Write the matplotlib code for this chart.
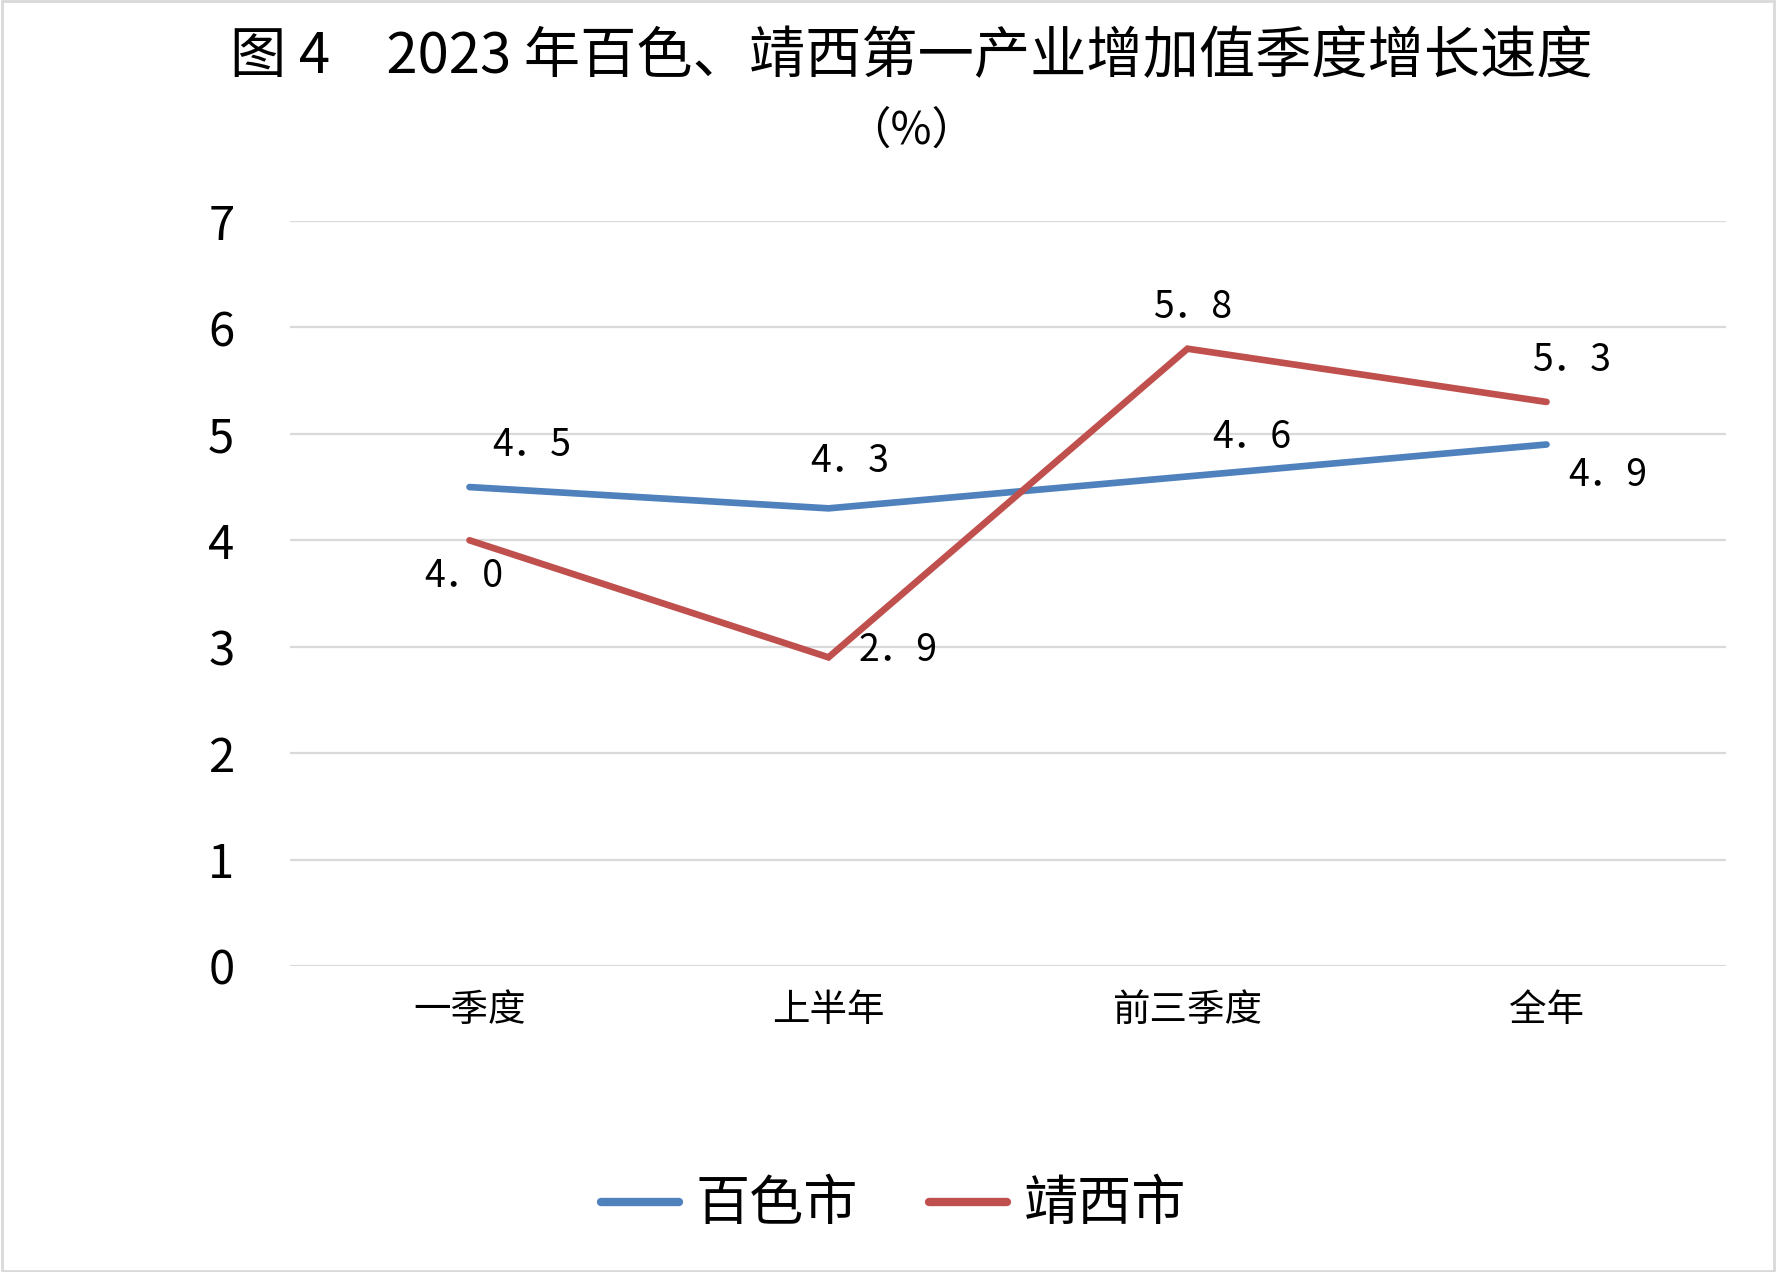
import matplotlib.pyplot as plt
from matplotlib.patches import Rectangle

plt.rcParams['font.family'] = ['Noto Sans CJK SC', 'DejaVu Sans']

# 数据
categories = ['一季度', '上半年', '前三季度', '全年']
baise = [4.5, 4.3, 4.6, 4.9]
jingxi = [4.0, 2.9, 5.8, 5.3]
series_names = ['百色市', '靖西市']
y_ticks = [0, 1, 2, 3, 4, 5, 6, 7]

title = '图 4　2023 年百色、靖西第一产业增加值季度增长速度'
subtitle = '（%）'

blue = '#4F81BD'
red = '#C0504D'
grid_col = '#D9D9D9'

fig = plt.figure(figsize=(17.76, 12.72), dpi=100)
ax = fig.add_axes([290 / 1776, 1 - 966 / 1272, 1436 / 1776, 745 / 1272])

x = list(range(len(categories)))
ax.plot(x, baise, color=blue, lw=4.8, solid_capstyle='round',
        solid_joinstyle='miter', label=series_names[0], zorder=3)
ax.plot(x, jingxi, color=red, lw=4.8, solid_capstyle='round',
        solid_joinstyle='miter', label=series_names[1], zorder=3)

# 数据标签偏移 (points)
off_b = [(45, 30), (15, 34), (46, 28), (44, -22)]
off_j = [(-4, -26), (50, 5), (4, 30), (18, 30)]
for i in x:
    ax.annotate(f'{baise[i]:.1f}'.replace('.', '．'), (i, baise[i]),
                xytext=off_b[i], textcoords='offset points',
                ha='center', va='center', fontsize=27, color='black')
    ax.annotate(f'{jingxi[i]:.1f}'.replace('.', '．'), (i, jingxi[i]),
                xytext=off_j[i], textcoords='offset points',
                ha='center', va='center', fontsize=27, color='black')

ax.set_xlim(-0.5, 3.5)
ax.set_ylim(0, 7)
ax.set_yticks(y_ticks)
ax.set_xticks(x)
ax.set_xticklabels(categories, fontsize=27)
ax.tick_params(axis='y', labelsize=34, length=0, pad=40)
ax.tick_params(axis='x', length=0, pad=18)
ax.grid(axis='y', color=grid_col, lw=1.6)
ax.set_axisbelow(True)
for s in ax.spines.values():
    s.set_visible(False)

fig.text(0.513, 0.955, title, ha='center', va='center', fontsize=40.5,
         fontweight='medium')
fig.text(0.513, 0.897, subtitle, ha='center', va='center', fontsize=32,
         fontweight='medium')

leg = fig.legend(loc='center', bbox_to_anchor=(0.503, 1 - 1205 / 1272), ncol=2,
                 frameon=False, fontsize=39, handlelength=1.45, handletextpad=0.3,
                 columnspacing=1.3)
for h in leg.get_lines():
    h.set_linewidth(6)
    h.set_solid_capstyle('round')

fig.patches.append(Rectangle((0.001, 0.001), 0.998, 0.998, transform=fig.transFigure,
                             fill=False, edgecolor=grid_col, lw=2))

fig.savefig('out.png', dpi=100, facecolor='white')
